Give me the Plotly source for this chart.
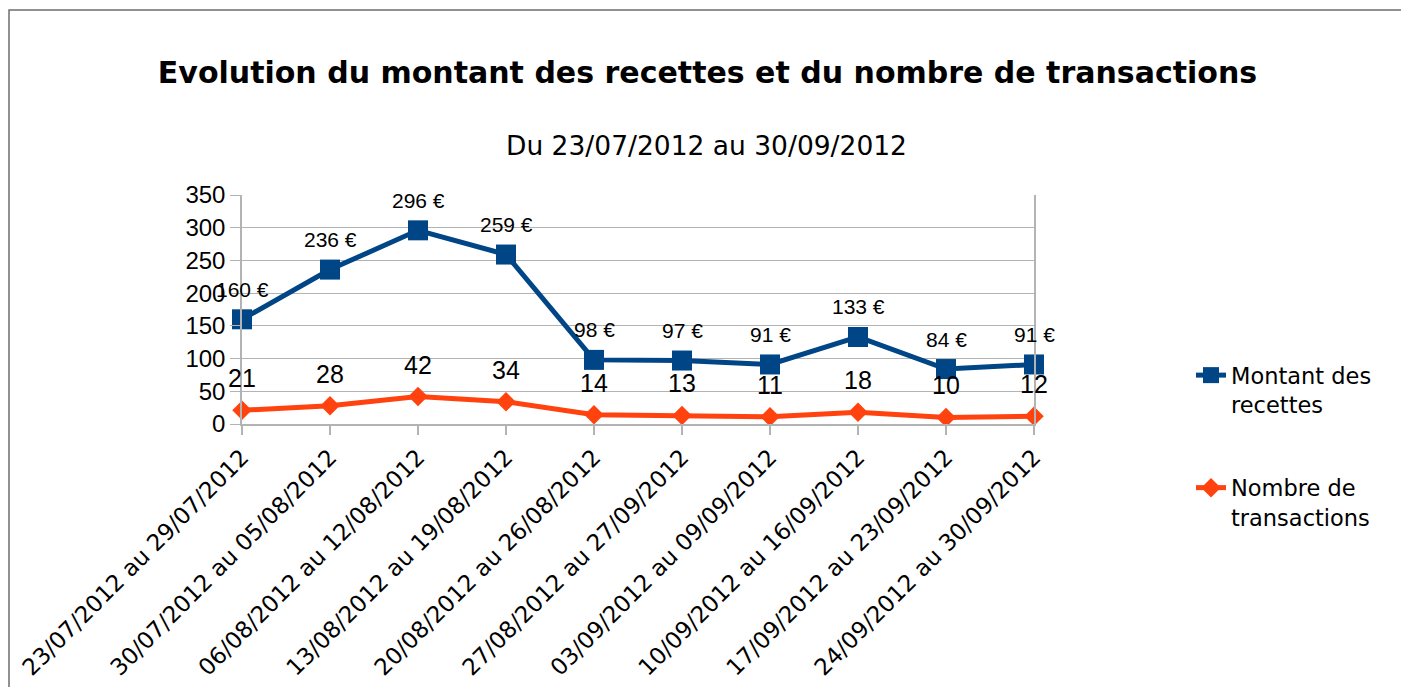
import plotly.graph_objects as go

semaines = ['23/07/2012 au 29/07/2012', '30/07/2012 au 05/08/2012', '06/08/2012 au 12/08/2012',
            '13/08/2012 au 19/08/2012', '20/08/2012 au 26/08/2012', '27/08/2012 au 27/09/2012',
            '03/09/2012 au 09/09/2012', '10/09/2012 au 16/09/2012', '17/09/2012 au 23/09/2012',
            '24/09/2012 au 30/09/2012']
montant = [160, 236, 296, 259, 98, 97, 91, 133, 84, 91]
nombre = [21, 28, 42, 34, 14, 13, 11, 18, 10, 12]

bleu = '#004586'
orange = '#ff420e'
gris = '#b3b3b3'

fig = go.Figure()

fig.add_trace(go.Scatter(x=semaines, y=montant, name='Montant des<br>recettes', legendgroup='a',
                         mode='lines+markers', cliponaxis=False,
                         line=dict(color=bleu, width=5),
                         marker=dict(symbol='square', size=20, color=bleu)))
fig.add_trace(go.Scatter(x=semaines, y=nombre, name='Nombre de<br>transactions', legendgroup='b',
                         mode='lines+markers', cliponaxis=False,
                         line=dict(color=orange, width=5),
                         marker=dict(symbol='diamond', size=15, color=orange)))

# étiquettes de données
annots = []
for s, v in zip(semaines, montant):
    annots.append(dict(x=s, y=v, text=f'{v} €', showarrow=False, yshift=30, yanchor='middle',
                       font=dict(family='Liberation Sans', size=21, color='black')))
for s, v in zip(semaines, nombre):
    annots.append(dict(x=s, y=v, text=str(v), showarrow=False, yshift=32, yanchor='middle',
                       font=dict(family='Liberation Sans', size=25, color='black')))

annots.append(dict(x=0.587, y=1.218, xref='paper', yref='paper', showarrow=False,
                   text='Du 23/07/2012 au 30/09/2012', yanchor='middle',
                   font=dict(family='DejaVu Sans', size=26.5, color='black')))

fig.update_layout(
    width=1401, height=687,
    paper_bgcolor='white', plot_bgcolor='white',
    margin=dict(l=242, r=367, t=195, b=263),
    title=dict(text='<b>Evolution du montant des recettes et du nombre de transactions</b>',
               x=0.505, xref='container', xanchor='center',
               y=1 - 72 / 687, yref='container', yanchor='middle',
               font=dict(family='DejaVu Sans', size=30, color='black')),
    annotations=annots,
    legend=dict(x=1191 / 1401, xref='container', y=1 - 354 / 687, yref='container',
                xanchor='left', yanchor='top', valign='top',
                tracegroupgap=51, traceorder='grouped',
                font=dict(family='DejaVu Sans', size=22.5, color='black')),
    shapes=[dict(type='rect', xref='paper', yref='paper',
                 x0=(9 - 242) / 792, x1=2, y0=-2, y1=(424 - 10) / 229,
                 line=dict(color='#6e6e6e', width=1.5))],
)

fig.update_xaxes(type='category', range=[0, 9], showgrid=False, automargin=False,
                 showline=True, linecolor=gris, linewidth=1.5,
                 ticks='outside', ticklen=9, tickcolor=gris, tickwidth=1.5,
                 tickangle=-45, tickfont=dict(family='DejaVu Sans', size=23, color='black'))
fig.update_yaxes(range=[0, 350], dtick=50, showgrid=True, gridcolor=gris, gridwidth=1,
                 automargin=False,
                 zeroline=False, showline=True, mirror=True, linecolor=gris, linewidth=1.5,
                 ticks='outside', ticklen=10, tickcolor=gris,
                 tickfont=dict(family='Liberation Sans', size=24, color='black'))

fig.write_html('out.html', config={'displayModeBar': False},
               post_script="document.body.style.margin='0';document.body.style.overflow='hidden';")
